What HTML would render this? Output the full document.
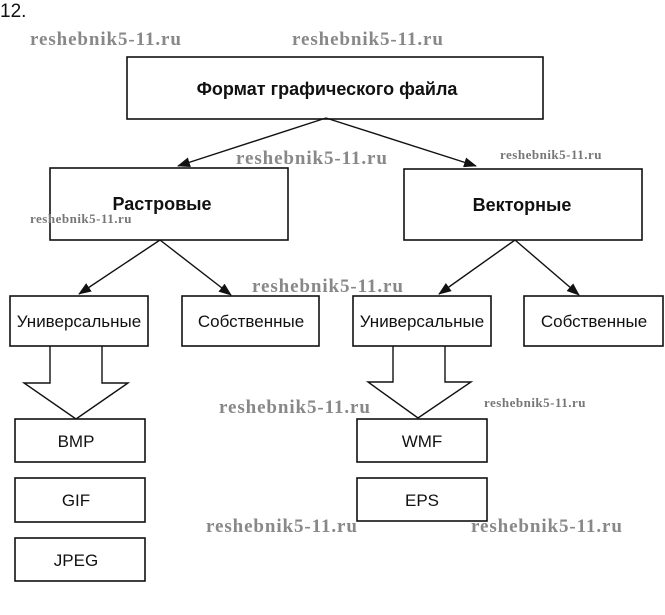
<!DOCTYPE html>
<html><head><meta charset="utf-8"><style>
html,body{margin:0;padding:0;background:#fff;width:665px;height:615px;overflow:hidden}
svg{display:block}
.b{fill:#fff;stroke:#111;stroke-width:1.6}
.t{font-family:"Liberation Sans",Arial,sans-serif;font-size:17px;fill:#111;text-anchor:middle}
.tb{font-family:"Liberation Sans",Arial,sans-serif;font-size:18px;font-weight:bold;fill:#111;text-anchor:middle}
.w{font-family:"Liberation Serif","DejaVu Serif",serif;font-weight:bold;font-size:19px;letter-spacing:0.9px;fill:#888}
.ws{font-family:"Liberation Serif","DejaVu Serif",serif;font-weight:bold;font-size:13px;letter-spacing:0.5px;fill:#777}
.l{stroke:#111;stroke-width:1.4;fill:none}
</style></head><body>
<svg width="665" height="615" viewBox="0 0 665 615">
<defs><marker id="a" markerWidth="13" markerHeight="10" refX="12" refY="5" orient="auto" markerUnits="userSpaceOnUse"><path d="M0,0 L13,5 L0,10 z" fill="#111"/></marker></defs>
<text x="0" y="17" style="font-family:'Liberation Sans',sans-serif;font-size:19px;fill:#111">12.</text>

<rect class="b" x="127" y="57" width="416" height="62"/>
<text class="tb" x="327" y="95">Формат графического файла</text>
<rect class="b" x="50" y="168" width="238" height="72"/>
<text class="tb" x="162" y="210">Растровые</text>
<rect class="b" x="404" y="169" width="238" height="71"/>
<text class="tb" x="522" y="211">Векторные</text>

<line class="l" x1="326" y1="118" x2="178" y2="166" marker-end="url(#a)"/>
<line class="l" x1="326" y1="118" x2="476" y2="166" marker-end="url(#a)"/>
<line class="l" x1="160" y1="240" x2="79" y2="294" marker-end="url(#a)"/>
<line class="l" x1="160" y1="240" x2="231" y2="295" marker-end="url(#a)"/>
<line class="l" x1="515" y1="240" x2="439" y2="294" marker-end="url(#a)"/>
<line class="l" x1="515" y1="240" x2="579" y2="295" marker-end="url(#a)"/>

<rect class="b" x="10" y="296" width="138" height="50"/>
<text class="t" x="79" y="327">Универсальные</text>
<rect class="b" x="182" y="296" width="137" height="50"/>
<text class="t" x="251" y="327">Собственные</text>
<rect class="b" x="353" y="296" width="138" height="50"/>
<text class="t" x="422" y="327">Универсальные</text>
<rect class="b" x="524" y="296" width="139" height="50"/>
<text class="t" x="594" y="327">Собственные</text>

<path class="l" d="M50,346 L50,383 L24,383 L76,419 L128,383 L102,383 L102,346"/>
<path class="l" d="M393,346 L393,382 L368,382 L418,418 L471,382 L445,382 L445,346"/>

<rect class="b" x="15" y="419" width="130" height="43"/>
<text class="t" x="76" y="447">BMP</text>
<rect class="b" x="15" y="478" width="130" height="44"/>
<text class="t" x="76" y="506">GIF</text>
<rect class="b" x="15" y="538" width="130" height="43"/>
<text class="t" x="76" y="566">JPEG</text>
<rect class="b" x="357" y="419" width="130" height="43"/>
<text class="t" x="422" y="447">WMF</text>
<rect class="b" x="357" y="478" width="130" height="43"/>
<text class="t" x="422" y="506">EPS</text>

<text class="w" x="30" y="45">reshebnik5-11.ru</text>
<text class="w" x="292" y="45">reshebnik5-11.ru</text>
<text class="w" x="236" y="164">reshebnik5-11.ru</text>
<text class="w" x="252" y="292">reshebnik5-11.ru</text>
<text class="w" x="219" y="413">reshebnik5-11.ru</text>
<text class="w" x="206" y="532">reshebnik5-11.ru</text>
<text class="w" x="471" y="532">reshebnik5-11.ru</text>
<text class="ws" x="500" y="159">reshebnik5-11.ru</text>
<text class="ws" x="30" y="223">reshebnik5-11.ru</text>
<text class="ws" x="484" y="407">reshebnik5-11.ru</text>
</svg>
</body></html>
